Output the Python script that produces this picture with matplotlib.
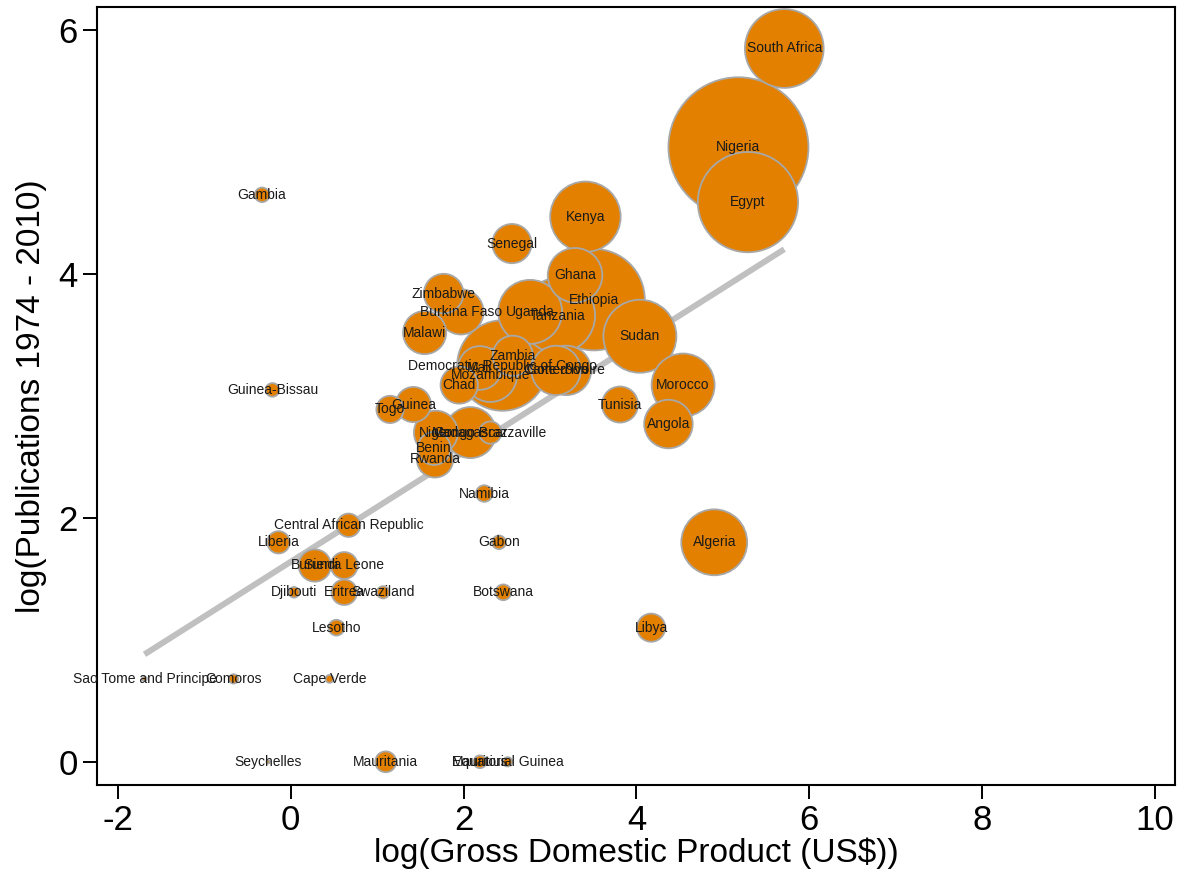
import numpy as np
import matplotlib.pyplot as plt

# country, log GDP, log publications, population (millions) -> bubble area
countries = [
    'Nigeria', 'Ethiopia', 'Egypt', 'Democratic Republic of Congo', 'South Africa',
    'Tanzania', 'Sudan', 'Kenya', 'Algeria', 'Uganda', 'Morocco', 'Ghana',
    'Mozambique', 'Madagascar', "Cote d'Ivoire", 'Cameroon', 'Angola',
    'Burkina Faso', 'Niger', 'Mali', 'Malawi', 'Zambia', 'Zimbabwe', 'Senegal',
    'Chad', 'Rwanda', 'Tunisia', 'Guinea', 'Benin', 'Burundi', 'Libya', 'Togo',
    'Sierra Leone', 'Eritrea', 'Central African Republic', 'Liberia',
    'Congo Brazzaville', 'Mauritania', 'Namibia', 'Lesotho', 'Botswana', 'Gambia',
    'Gabon', 'Guinea-Bissau', 'Mauritius', 'Swaziland', 'Djibouti',
    'Equatorial Guinea', 'Comoros', 'Cape Verde', 'Sao Tome and Principe',
    'Seychelles',
]
log_gdp = [
    5.18, 3.51, 5.29, 2.45, 5.71,
    3.09, 4.04, 3.41, 4.90, 2.77, 4.54, 3.29,
    2.31, 2.08, 3.19, 3.07, 4.37,
    1.97, 1.68, 2.19, 1.55, 2.57, 1.77, 2.56,
    1.95, 1.67, 3.81, 1.42, 1.66, 0.28, 4.17, 1.15,
    0.62, 0.62, 0.67, -0.14,
    2.31, 1.10, 2.24, 0.53, 2.46, -0.33,
    2.41, -0.21, 2.19, 1.07, 0.04,
    2.51, -0.66, 0.45, -1.69,
    -0.26,
]
log_pubs = [
    5.04, 3.79, 4.59, 3.25, 5.85,
    3.66, 3.49, 4.47, 1.80, 3.69, 3.09, 3.99,
    3.17, 2.70, 3.21, 3.21, 2.77,
    3.69, 2.70, 3.23, 3.52, 3.33, 3.84, 4.25,
    3.09, 2.48, 2.93, 2.93, 2.57, 1.61, 1.10, 2.89,
    1.61, 1.39, 1.94, 1.80,
    2.70, 0.00, 2.20, 1.10, 1.39, 4.65,
    1.80, 3.05, 0.00, 1.39, 1.39,
    0.00, 0.68, 0.68, 0.68,
    0.00,
]
population = [
    158, 83, 81, 66, 50,
    45, 43, 40, 35, 33, 32, 24,
    23, 21, 19.7, 19.6, 19,
    16.5, 15.5, 15.4, 15, 13, 12.6, 12.4,
    11.2, 10.6, 10.5, 10, 8.8, 8.4, 6.4, 6,
    5.8, 5.2, 4.4, 4,
    4, 3.5, 2.2, 2.0, 2.0, 1.7,
    1.5, 1.5, 1.3, 1.2, 0.9,
    0.7, 0.7, 0.5, 0.17,
    0.09,
]

# fitted line: intercept, slope
fit_coef = [1.64, 0.449]

x = np.array(log_gdp)
y = np.array(log_pubs)
pop = np.array(population)

plt.rcParams['font.family'] = ['Liberation Sans', 'DejaVu Sans']
plt.rcParams['axes.unicode_minus'] = False

fig = plt.figure(figsize=(11.91, 8.80), dpi=100)
ax = fig.add_axes([0.0814, 0.108, 0.9052, 0.884])

xs = np.array([x.min(), x.max()])
ax.plot(xs, fit_coef[0] + fit_coef[1] * xs, color='#c0c0c0', lw=4.3,
        solid_capstyle='butt', zorder=1)

# biggest bubbles first so small ones stay visible
order = np.argsort(-pop)
sizes = 64.3 * pop  # marker area in points^2, proportional to population
ax.scatter(x[order], y[order], s=sizes[order], c='#e38000',
           edgecolors='#a8a8a8', linewidths=1.3, zorder=2)

for name, xi, yi in zip(countries, x, y):
    ax.text(xi, yi, name, ha='center', va='center', fontsize=10,
            color='#1a1a1a', zorder=3)

ax.set_xlim(-2.24, 10.23)
ax.set_ylim(-0.19, 6.19)
ax.set_xticks(np.arange(-2, 11, 2))
ax.set_yticks(np.arange(0, 7, 2))
ax.tick_params(axis='both', direction='out', length=10, width=1.4,
               labelsize=25, pad=4)
for sp in ax.spines.values():
    sp.set_linewidth(1.5)

ax.set_xlabel('log(Gross Domestic Product (US$))', fontsize=24, labelpad=0)
ax.set_ylabel('log(Publications 1974 - 2010)', fontsize=24, labelpad=8)

fig.savefig('out.png', dpi=100)
